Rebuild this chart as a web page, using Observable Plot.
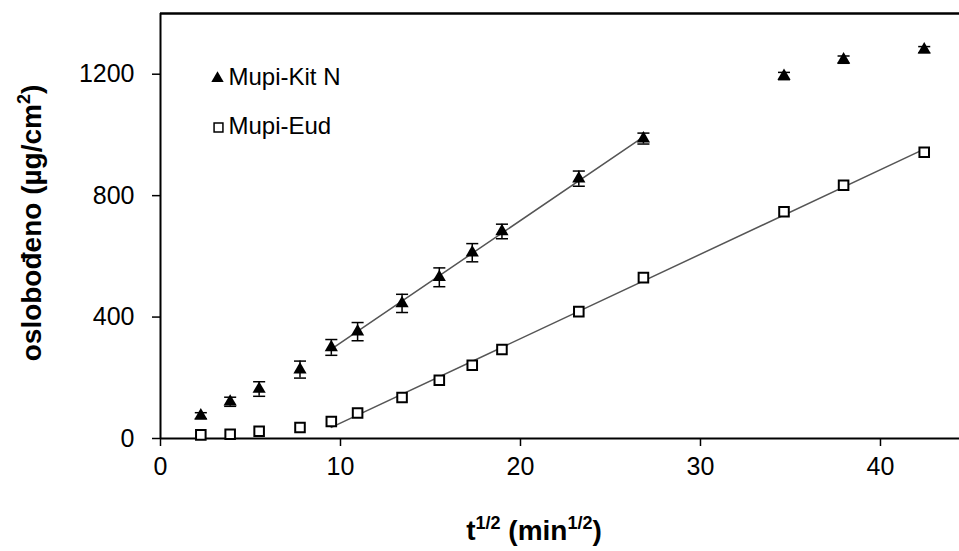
<!DOCTYPE html>
<html>
<head>
<meta charset="utf-8">
<script src="https://cdn.jsdelivr.net/npm/d3@7"></script>
<script src="https://cdn.jsdelivr.net/npm/@observablehq/plot@0.6"></script>
<style>
  html, body { margin: 0; padding: 0; background: #fff; }
  #chart { width: 959px; height: 551px; }
</style>
</head>
<body>
<div id="chart"></div>
<script>
// t^(1/2) values (min^(1/2))
const tVals = [2.24, 3.87, 5.48, 7.75, 9.49, 10.95, 13.42, 15.49, 17.32, 18.97, 23.24, 26.83, 34.64, 37.95, 42.43];
// Mupi-Kit N released amount (µg/cm²) and error
const kitN = [75, 121, 163, 227, 300, 352, 445, 531, 612, 682, 856, 988, 1194, 1248, 1281];
const kitNErr = [10, 15, 24, 28, 26, 30, 30, 31, 30, 24, 25, 18, 12, 12, 10];
// Mupi-Eud released amount (µg/cm²)
const eud = [12, 14, 24, 36, 56, 84, 135, 192, 241, 293, 418, 530, 747, 834, 943];
// index ranges used for the linear fits
const kitNFit = [4, 11];
const eudFit = [4, 14];
const xTicks = [0, 10, 20, 30, 40];
const yTicks = [0, 400, 800, 1200];
const seriesNames = ["Mupi-Kit N", "Mupi-Eud"];

const kitData = tVals.map((t, i) => ({t, v: kitN[i], e: kitNErr[i], i}));
const eudData = tVals.map((t, i) => ({t, v: eud[i], i}));
const kitFitData = kitData.filter(d => d.i >= kitNFit[0] && d.i <= kitNFit[1]);
const eudFitData = eudData.filter(d => d.i >= eudFit[0] && d.i <= eudFit[1]);

const hline = {draw(ctx, size) { const w = Math.sqrt(size); ctx.moveTo(-w, 0); ctx.lineTo(w, 0); }};
const fmt = d => String(d);

const chart = Plot.plot({
  width: 959,
  height: 551,
  marginLeft: 160,
  marginRight: 0,
  marginTop: 13,
  marginBottom: 113,
  style: {fontFamily: "'Liberation Sans', Arial, sans-serif", fontSize: "25px", color: "#000", background: "#fff"},
  x: {domain: [0, 44.39]},
  y: {domain: [0, 1400]},
  marks: [
    Plot.axisX({ticks: xTicks, tickSize: 8, tickPadding: 11, strokeWidth: 1.5, label: null, tickFormat: fmt}),
    Plot.axisY({ticks: yTicks, tickSize: 8, tickPadding: 18, strokeWidth: 1.5, label: null, tickFormat: fmt}),
    Plot.ruleX([0], {stroke: "#000", strokeWidth: 2}),
    Plot.ruleY([0], {stroke: "#000", strokeWidth: 2}),
    Plot.ruleY([1400], {stroke: "#000", strokeWidth: 2.5}),
    Plot.linearRegressionY(kitFitData, {x: "t", y: "v", ci: 0, stroke: "#555", strokeWidth: 1.5}),
    Plot.linearRegressionY(eudFitData, {x: "t", y: "v", ci: 0, stroke: "#555", strokeWidth: 1.5}),
    Plot.ruleX(kitData, {x: "t", y1: d => d.v - d.e, y2: d => d.v + d.e, stroke: "#000", strokeWidth: 1.5}),
    Plot.dot(kitData, {x: "t", y: d => d.v + d.e, symbol: hline, r: 3.4, stroke: "#000", strokeWidth: 1.5, fill: "none"}),
    Plot.dot(kitData, {x: "t", y: d => d.v - d.e, symbol: hline, r: 3.4, stroke: "#000", strokeWidth: 1.5, fill: "none"}),
    Plot.dot(kitData, {x: "t", y: "v", symbol: "triangle", r: 4.9, fill: "#000", stroke: "none"}),
    Plot.dot(eudData, {x: "t", y: "v", symbol: "square", r: 5.4, fill: "#fff", stroke: "#000", strokeWidth: 2}),
    // legend
    Plot.dot([seriesNames[0]], {frameAnchor: "top-left", dx: 57, dy: 65, symbol: "triangle", r: 4.6, fill: "#000", stroke: "none"}),
    Plot.dot([seriesNames[1]], {frameAnchor: "top-left", dx: 58, dy: 114, symbol: "square", r: 5.0, fill: "#fff", stroke: "#000", strokeWidth: 1.5}),
    Plot.text([seriesNames[0]], {frameAnchor: "top-left", dx: 68, dy: 64, text: d => d, textAnchor: "start", lineAnchor: "middle", fontSize: 24, fill: "#000"}),
    Plot.text([seriesNames[1]], {frameAnchor: "top-left", dx: 68, dy: 113, text: d => d, textAnchor: "start", lineAnchor: "middle", fontSize: 24, fill: "#000"})
  ]
});

document.getElementById("chart").appendChild(chart);

// axis titles with superscripts
const svg = d3.select(chart);
const xt = svg.append("text")
  .attr("x", 534).attr("y", 540)
  .attr("text-anchor", "middle")
  .attr("font-family", "'Liberation Sans', Arial, sans-serif")
  .attr("font-weight", "bold")
  .attr("font-size", 28)
  .attr("fill", "#000");
xt.append("tspan").text("t");
xt.append("tspan").attr("font-size", 18).attr("dy", -11).text("1/2");
xt.append("tspan").attr("dy", 11).text(" (min");
xt.append("tspan").attr("font-size", 18).attr("dy", -11).text("1/2");
xt.append("tspan").attr("dy", 11).text(")");

const yt = svg.append("text")
  .attr("transform", "translate(41,223) rotate(-90)")
  .attr("text-anchor", "middle")
  .attr("font-family", "'Liberation Sans', Arial, sans-serif")
  .attr("font-weight", "bold")
  .attr("font-size", 28)
  .attr("fill", "#000");
yt.append("tspan").text("oslobođeno (µg/cm");
yt.append("tspan").attr("font-size", 18).attr("dy", -11).text("2");
yt.append("tspan").attr("dy", 11).text(")");
</script>
</body>
</html>
